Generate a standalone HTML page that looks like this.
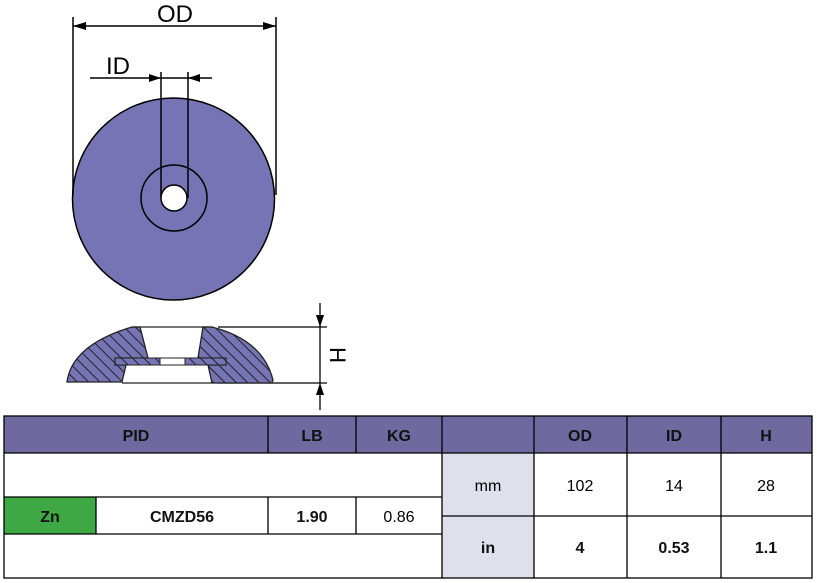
<!DOCTYPE html>
<html><head><style>html,body{margin:0;padding:0;background:#fff;}svg{display:block;}</style></head>
<body>
<svg width="817" height="583" xmlns="http://www.w3.org/2000/svg" font-family="Liberation Sans, Arial, sans-serif">
<defs>
<pattern id="h" patternUnits="userSpaceOnUse" width="8" height="8" patternTransform="rotate(-45)">
<rect width="8" height="8" fill="#7674b4"/><line x1="0" y1="0" x2="0" y2="8" stroke="#222" stroke-width="2"/>
</pattern>
</defs>
<!-- top view -->
<circle cx="173.5" cy="199" r="101" fill="#7674b4" stroke="#000" stroke-width="1.5"/>
<circle cx="174" cy="198" r="33" fill="none" stroke="#000" stroke-width="1.5"/>
<path d="M161 72 V198 M188 72 V198" stroke="#000" stroke-width="1.5" fill="none"/>
<circle cx="174" cy="198" r="13" fill="#fff" stroke="#000" stroke-width="1.5"/>
<!-- OD dimension -->
<path d="M73 17 V195 M276 17 V195" stroke="#000" stroke-width="1.5"/>
<path d="M73 26 H276" stroke="#000" stroke-width="1.5"/>
<path d="M73 26 l13 -4 v8 z M276 26 l-13 -4 v8 z" fill="#000"/>
<text x="175" y="22" font-size="24" text-anchor="middle">OD</text>
<!-- ID dimension -->
<path d="M90 78 H212" stroke="#000" stroke-width="1.5"/>
<path d="M161 78 l-12 -4 v8 z M188 78 l12 -4 v8 z" fill="#000"/>
<text x="118" y="74" font-size="24" text-anchor="middle">ID</text>
<!-- side view -->
<path d="M218 327 H327 M218 383 H327" stroke="#000" stroke-width="1.3"/>
<path d="M320 303 V410" stroke="#000" stroke-width="1.3"/>
<path d="M320 327 l-4 -12 h8 z M320 383 l-4 12 h8 z" fill="#000"/>
<text x="0" y="0" font-size="22" transform="translate(330,355) rotate(90)" text-anchor="middle">H</text>
<path d="M67 382 Q72 345 132 327 L140 327 L148 358 L115 358 L115 365 L126 365 L122 382 Z" fill="url(#h)" stroke="#222" stroke-width="1.3"/>
<path d="M203 327 L212 327 Q263 340 273 380 L272 383 L212 383 L208 365 L226 365 L226 358 L198 358 Z" fill="url(#h)" stroke="#222" stroke-width="1.3"/>
<rect x="115" y="358" width="45" height="7" fill="url(#h)" stroke="#222" stroke-width="1"/>
<rect x="185" y="358" width="41" height="7" fill="url(#h)" stroke="#222" stroke-width="1"/>
<rect x="160" y="358" width="25" height="7" fill="#fff" stroke="#222" stroke-width="1"/>
<path d="M132 327 H212 M122 383 H212" stroke="#222" stroke-width="1.3"/>
<!-- table -->
<rect x="4" y="416" width="808" height="37" fill="#6f69a0"/>
<rect x="442" y="453" width="92" height="125" fill="#e0dfec"/>
<rect x="4" y="497" width="92" height="37" fill="#3ea845"/>
<g stroke="#000" stroke-width="1.3" fill="none">
<rect x="4" y="416" width="808" height="162"/>
<path d="M4 453 H812 M4 497 H442 M4 534 H442 M442 516 H812"/>
<path d="M268 416 V453 M356 416 V453 M442 416 V578 M534 416 V578 M627 416 V578 M721 416 V578"/>
<path d="M96 497 V534 M268 497 V534 M356 497 V534"/>
</g>
<g font-size="16" text-anchor="middle" fill="#000">
<g font-weight="bold" fill="#111">
<text x="136" y="441">PID</text><text x="312" y="441">LB</text><text x="399" y="441">KG</text>
<text x="580" y="441">OD</text><text x="674" y="441">ID</text><text x="766" y="441">H</text>
<text x="50" y="522">Zn</text><text x="182" y="522">CMZD56</text><text x="312" y="522">1.90</text>
<text x="488" y="553">in</text><text x="580" y="553">4</text><text x="674" y="553">0.53</text><text x="766" y="553">1.1</text>
</g>
<text x="399" y="522">0.86</text>
<text x="488" y="491">mm</text><text x="580" y="491">102</text><text x="674" y="491">14</text><text x="766" y="491">28</text>
</g>
</svg>
</body></html>
